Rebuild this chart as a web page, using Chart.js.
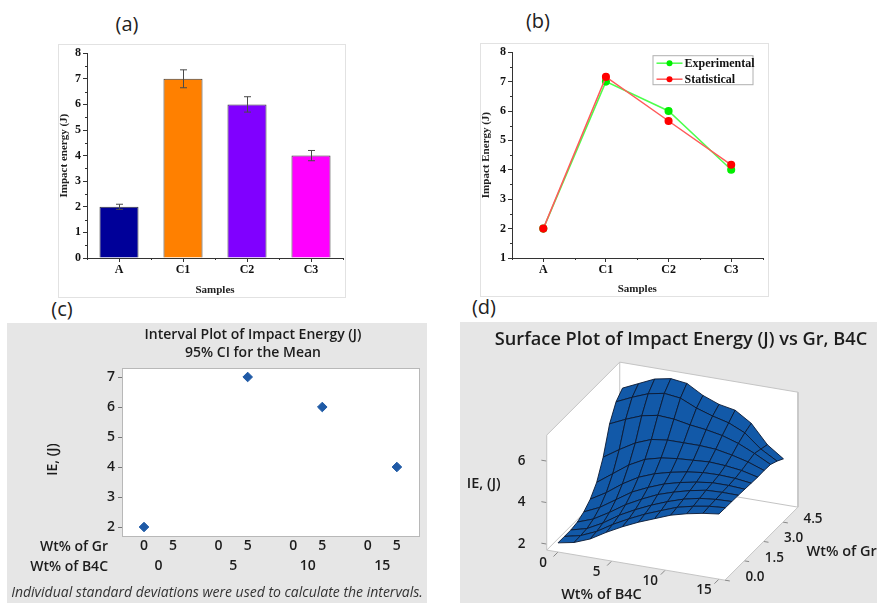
<!DOCTYPE html>
<html><head><meta charset="utf-8">
<script src="https://cdn.jsdelivr.net/npm/chart.js@4.4.1/dist/chart.umd.min.js"></script>
<style>
html,body{margin:0;padding:0;background:#fff;width:877px;height:603px;overflow:hidden;position:relative;font-family:'Open Sans',sans-serif}
.lbl{position:absolute;font-family:'Open Sans',sans-serif;font-size:20px;line-height:24px;color:#222;text-align:center;width:40px}
.frame{position:absolute;border:1px solid #e2e2e2;box-sizing:border-box;background:#fff}
.gray{position:absolute;background:#e6e6e6}
.ttl{position:absolute;text-align:center;font-family:'Open Sans',sans-serif;color:#1c1c1c;white-space:nowrap}
canvas{position:absolute;display:block}
</style></head><body>
<div class="lbl" style="left:107px;top:12px">(a)</div>
<div class="lbl" style="left:518px;top:9px">(b)</div>
<div class="lbl" style="left:42px;top:297px">(c)</div>
<div class="lbl" style="left:464px;top:295px">(d)</div>

<div class="frame" style="left:58px;top:44px;width:288px;height:254px"></div>
<div class="frame" style="left:480px;top:43px;width:289px;height:254px"></div>
<div class="gray" style="left:7px;top:323px;width:420px;height:280px"></div>
<div class="gray" style="left:460px;top:322px;width:417px;height:281px"></div>

<canvas id="ca" width="287" height="253" style="left:58px;top:44px"></canvas>
<canvas id="cb" width="288" height="253" style="left:480px;top:43px"></canvas>
<canvas id="cc" width="420" height="280" style="left:7px;top:323px"></canvas>
<canvas id="cd" width="417" height="281" style="left:460px;top:322px"></canvas>

<div class="ttl" style="left:103px;width:300px;top:325px;font-size:14px;font-weight:600;line-height:18px">Interval Plot of Impact Energy (J)<br>95% CI for the Mean</div>
<div class="ttl" style="left:2px;width:430px;top:582px;font-size:14px;font-style:italic;line-height:20px;color:#333">Individual standard deviations were used to calculate the intervals.</div>
<div class="ttl" style="left:481px;width:400px;top:325px;font-size:18.2px;font-weight:600;line-height:26px">Surface Plot of Impact Energy (J) vs Gr, B4C</div>

<script>
// ---------------- DATA ----------------
const samples = ['A', 'C1', 'C2', 'C3'];
const impactEnergy = [2, 7, 6, 4];
const impactErr = [0.1, 0.35, 0.3, 0.2];
const yTicksA = [0, 1, 2, 3, 4, 5, 6, 7, 8];

const experimental = [2, 7, 6, 4];
const statistical = [2, 7.16, 5.66, 4.17];
const yTicksB = [1, 2, 3, 4, 5, 6, 7, 8];

const ieB4C = [0, 5, 10, 15];
const ieGr = [0, 5, 5, 5];
const ieMean = [2, 7, 6, 4];
const b4cLevels = [0, 5, 10, 15];
const grLevels = [0, 5];
const yTicksC = [2, 3, 4, 5, 6, 7];

const surfB4C = [0, 1.5, 3, 4.5, 6, 7.5, 9, 10.5, 12, 13.5, 15];
const surfGr = [0, 0.5, 1, 1.5, 2, 2.5, 3, 3.5, 4, 4.5, 5];
const surfIE = [
  [2.15, 2.3, 2.6, 3.05, 3.45, 3.8, 4.1, 4.4, 4.6, 4.75, 4.85],
  [2.15, 2.32, 2.65, 3.12, 3.52, 3.88, 4.18, 4.47, 4.65, 4.78, 4.84],
  [2.15, 2.35, 2.75, 3.25, 3.65, 4.0, 4.3, 4.55, 4.72, 4.8, 4.83],
  [2.22, 2.5, 2.95, 3.45, 3.85, 4.2, 4.45, 4.65, 4.8, 4.83, 4.82],
  [2.4, 2.75, 3.25, 3.75, 4.1, 4.4, 4.6, 4.75, 4.85, 4.85, 4.8],
  [2.7, 3.15, 3.7, 4.15, 4.45, 4.65, 4.8, 4.9, 4.92, 4.88, 4.78],
  [3.2, 3.75, 4.3, 4.7, 4.9, 5.0, 5.05, 5.1, 5.05, 4.95, 4.76],
  [4.1, 4.6, 5.05, 5.35, 5.45, 5.45, 5.45, 5.4, 5.25, 5.05, 4.77],
  [5.4, 5.75, 6.05, 6.2, 6.15, 6.0, 5.9, 5.75, 5.5, 5.15, 4.75],
  [6.15, 6.5, 6.8, 6.95, 6.85, 6.5, 6.25, 6.05, 5.7, 5.05, 4.6],
  [6.5, 6.85, 7.2, 7.35, 7.25, 6.8, 6.5, 6.35, 5.85, 4.95, 4.4]
];
const zTicksD = [2, 4, 6];
const b4cTicksD = [0, 5, 10, 15];
const grTicksD = [0, 1.5, 3, 4.5];

// ---------------- STYLE ----------------
const barColors = ['#000099', '#ff8000', '#8000ff', '#ff00ff'];
const SERIF = '"Liberation Serif", "Times New Roman", serif';
const serifBold = s => ({family: SERIF, weight: 'bold', size: s});
const sansSemi = s => ({family: '"Open Sans", sans-serif', weight: '600', size: s});

Chart.defaults.animation = false;
Chart.defaults.plugins.legend.display = false;
Chart.defaults.plugins.tooltip.enabled = false;

const errorBars = {
  id: 'errorBars',
  afterDatasetsDraw(chart, args, opts) {
    const meta = chart.getDatasetMeta(0), y = chart.scales.y, ctx = chart.ctx;
    const vals = chart.data.datasets[0].data;
    ctx.save(); ctx.strokeStyle = '#4a4a4a'; ctx.lineWidth = 1;
    meta.data.forEach((bar, i) => {
      const t = y.getPixelForValue(vals[i] + opts.errors[i]);
      const b = y.getPixelForValue(vals[i] - opts.errors[i]);
      const x = Math.round(bar.x) + 0.5;
      ctx.beginPath();
      ctx.moveTo(x, t); ctx.lineTo(x, b);
      ctx.moveTo(x - 3.5, t); ctx.lineTo(x + 3.5, t);
      ctx.moveTo(x - 3.5, b); ctx.lineTo(x + 3.5, b);
      ctx.stroke();
    });
    ctx.restore();
  }
};

const minorTicks = {
  id: 'minorTicks',
  afterDraw(chart, args, opts) {
    const ctx = chart.ctx, x = chart.scales.x, y = chart.scales.y;
    ctx.save(); ctx.strokeStyle = '#333'; ctx.lineWidth = 1;
    (opts.x || []).forEach(v => {
      const px = Math.round(x.getPixelForValue(v)) + 0.5;
      ctx.beginPath(); ctx.moveTo(px, x.top); ctx.lineTo(px, x.top + opts.len); ctx.stroke();
    });
    (opts.y || []).forEach(v => {
      const py = Math.round(y.getPixelForValue(v)) + 0.5;
      ctx.beginPath(); ctx.moveTo(y.right, py); ctx.lineTo(y.right - opts.len, py); ctx.stroke();
    });
    ctx.restore();
  }
};

// ---------------- (a) ----------------
new Chart(document.getElementById('ca'), {
  type: 'bar',
  data: {labels: samples, datasets: [{data: impactEnergy, backgroundColor: barColors, borderColor: '#3a3a3a', borderWidth: 1, barPercentage: 0.61, categoryPercentage: 1}]},
  options: {
    responsive: false, devicePixelRatio: 1,
    layout: {padding: {top: 6, right: 2, left: 0, bottom: 0}},
    scales: {
      x: {offset: true, grid: {drawOnChartArea: false, offset: false, tickLength: 4, tickColor: '#333'}, border: {color: '#333'},
          ticks: {font: serifBold(12), color: '#111', padding: 1},
          title: {display: true, text: 'Samples', font: serifBold(11), color: '#222', padding: 0},
          afterFit(s) { s.height = 39; }},
      y: {min: 0, max: 8, afterBuildTicks(s) { s.ticks = yTicksA.map(v => ({value: v})); },
          grid: {drawOnChartArea: false, tickLength: 4, tickColor: '#333'}, border: {color: '#333'},
          ticks: {font: serifBold(12), color: '#111', padding: 2},
          title: {display: true, text: 'Impact energy (J)', font: serifBold(11), color: '#222', padding: 0},
          afterFit(s) { s.width = 29; }}
    },
    plugins: {
      errorBars: {errors: impactErr},
      minorTicks: {x: samples.map((_, i) => i - 0.5).concat([samples.length - 0.5]), y: yTicksA.slice(1).map(v => v - 0.5), len: 2}
    }
  },
  plugins: [errorBars, minorTicks]
});

// ---------------- (b) ----------------
const boxLegend = {
  id: 'boxLegend',
  afterDraw(chart) {
    const ca = chart.chartArea, ctx = chart.ctx;
    const w = 100, h = 29, x0 = ca.right - 10 - w, y0 = ca.top + 3;
    ctx.save();
    ctx.fillStyle = '#fff'; ctx.fillRect(x0, y0, w, h);
    ctx.strokeStyle = '#b0b0b0'; ctx.lineWidth = 1; ctx.strokeRect(x0 + 0.5, y0 + 0.5, w, h);
    chart.data.datasets.forEach((ds, i) => {
      const yy = y0 + 8 + i * 16;
      ctx.strokeStyle = ds.borderColor; ctx.lineWidth = 1.5;
      ctx.beginPath(); ctx.moveTo(x0 + 4, yy); ctx.lineTo(x0 + 30, yy); ctx.stroke();
      ctx.fillStyle = ds.pointBackgroundColor;
      ctx.beginPath(); ctx.arc(x0 + 17, yy, 3, 0, Math.PI * 2); ctx.fill();
      ctx.fillStyle = '#111'; ctx.font = 'bold 12px ' + SERIF; ctx.textBaseline = 'middle';
      ctx.fillText(ds.label, x0 + 32, yy + 0.5);
    });
    ctx.restore();
  }
};
new Chart(document.getElementById('cb'), {
  type: 'line',
  data: {labels: samples, datasets: [
    {label: 'Experimental', data: experimental, borderColor: '#4dff4d', backgroundColor: '#00ee00', pointBackgroundColor: '#00ee00', pointBorderColor: '#00ee00', pointRadius: 3.3, borderWidth: 1.5, tension: 0, order: 1},
    {label: 'Statistical', data: statistical, borderColor: '#ff5a5a', backgroundColor: '#ff0000', pointBackgroundColor: '#ff0000', pointBorderColor: '#ff0000', pointRadius: 3.3, borderWidth: 1.5, tension: 0, order: 0}
  ]},
  options: {
    responsive: false, devicePixelRatio: 1,
    layout: {padding: {top: 8, right: 2, left: 0, bottom: 0}},
    scales: {
      x: {offset: true, grid: {drawOnChartArea: false, offset: false, tickLength: 4, tickColor: '#333'}, border: {color: '#333'},
          ticks: {font: serifBold(12), color: '#111', padding: 1},
          title: {display: true, text: 'Samples', font: serifBold(11), color: '#222', padding: 0},
          afterFit(s) { s.height = 38; }},
      y: {min: 1, max: 8, afterBuildTicks(s) { s.ticks = yTicksB.map(v => ({value: v})); },
          grid: {drawOnChartArea: false, tickLength: 4, tickColor: '#333'}, border: {color: '#333'},
          ticks: {font: serifBold(12), color: '#111', padding: 2},
          title: {display: true, text: 'Impact Energy (J)', font: serifBold(11), color: '#222', padding: 0},
          afterFit(s) { s.width = 32; }}
    },
    plugins: {
      minorTicks: {x: samples.map((_, i) => i - 0.5).concat([samples.length - 0.5]), y: yTicksB.slice(1).map(v => v - 0.5), len: 2}
    }
  },
  plugins: [boxLegend, minorTicks]
});

// ---------------- (c) ----------------
const GR_STEP = 0.39;
const xposC = (b4c, gr) => b4cLevels.indexOf(b4c) + grLevels.indexOf(gr) * GR_STEP;
const areaBox = {
  id: 'areaBox',
  beforeDatasetsDraw(chart) {
    const a = chart.chartArea, ctx = chart.ctx;
    ctx.save(); ctx.fillStyle = '#fff'; ctx.fillRect(a.left, a.top, a.right - a.left, a.bottom - a.top);
    ctx.strokeStyle = '#b8b8b8'; ctx.lineWidth = 1; ctx.strokeRect(a.left + 0.5, a.top + 0.5, a.right - a.left - 1, a.bottom - a.top - 1);
    ctx.restore();
  },
  afterDraw(chart) {
    const ctx = chart.ctx, a = chart.chartArea, sx = chart.scales.x, sx2 = chart.scales.x2;
    ctx.save();
    ctx.fillStyle = '#1c1c1c'; ctx.font = '600 14px "Open Sans", sans-serif';
    ctx.textAlign = 'right'; ctx.textBaseline = 'middle';
    ctx.fillText('Wt% of Gr', a.left - 14, sx.top + 10);
    ctx.fillText('Wt% of B4C', a.left - 14, sx2.top + 10);
    ctx.translate(a.left - 69, (a.top + a.bottom) / 2 + 7);
    ctx.rotate(-Math.PI / 2); ctx.textAlign = 'center';
    ctx.fillText('IE, (J)', 0, 0);
    ctx.restore();
  }
};
new Chart(document.getElementById('cc'), {
  type: 'scatter',
  data: {datasets: [{data: ieMean.map((v, i) => ({x: xposC(ieB4C[i], ieGr[i]), y: v})), pointStyle: 'rectRot', pointRadius: 4.8, backgroundColor: '#1f5aa6', borderColor: '#1f5aa6'}]},
  options: {
    responsive: false, devicePixelRatio: 1,
    layout: {padding: {top: 45, right: 7, bottom: 26, left: 0}},
    scales: {
      x: {type: 'linear', position: 'bottom', weight: 0, min: -0.295, max: 3.7,
          afterBuildTicks(s) { s.ticks = b4cLevels.flatMap(b => grLevels.map(g => ({value: xposC(b, g)}))); },
          ticks: {callback: (v, i) => String(grLevels[i % grLevels.length]), font: sansSemi(14), color: '#1c1c1c', padding: 1, autoSkip: false, maxRotation: 0},
          grid: {display: false, drawTicks: false}, border: {display: false}, afterFit(s) { s.height = 20; }},
      x2: {type: 'linear', position: 'bottom', weight: 1, min: -0.295, max: 3.7,
          afterBuildTicks(s) { s.ticks = b4cLevels.map((b, i) => ({value: i + GR_STEP / 2})); },
          ticks: {callback: (v, i) => String(b4cLevels[i]), font: sansSemi(14), color: '#1c1c1c', padding: 1, autoSkip: false, maxRotation: 0},
          grid: {display: false, drawTicks: false}, border: {display: false}, afterFit(s) { s.height = 20; }},
      y: {min: 1.667, max: 7.3, afterBuildTicks(s) { s.ticks = yTicksC.map(v => ({value: v})); },
          ticks: {font: sansSemi(14), color: '#1c1c1c', padding: 3},
          grid: {drawOnChartArea: false, tickLength: 4, tickColor: '#777'}, border: {display: false},
          afterFit(s) { s.width = 115; }}
    }
  },
  plugins: [areaBox]
});

// ---------------- (d) ----------------
const view = {x0: 558, y0: 552, bx: 10.73, by: 1.81, gx: 12.9, gy: -12.9, zs: 20.75, z0: 1.71,
              bMin: -1.05, bMax: 15.56, gMin: 0, gMax: 5.66, zMax: 7.25};
function proj(b, g, z) {
  return {x: view.x0 + b * view.bx + g * view.gx, y: view.y0 + b * view.by + g * view.gy - (z - view.z0) * view.zs};
}
const SURF = '#1259a8', MESH = '#0b1a33', EDGE = '#c4c4c4';
const dsD = [];
const quads = [];
for (let i = 0; i < surfGr.length - 1; i++) {
  for (let j = 0; j < surfB4C.length - 1; j++) {
    const pts = [[j, i], [j + 1, i], [j + 1, i + 1], [j, i + 1], [j, i]]
      .map(([jj, ii]) => proj(surfB4C[jj], surfGr[ii], surfIE[ii][jj]));
    const bc = (surfB4C[j] + surfB4C[j + 1]) / 2, gc = (surfGr[i] + surfGr[i + 1]) / 2;
    quads.push({depth: bc * view.by + gc * view.gy, pts});
  }
}
quads.sort((p, q) => q.depth - p.depth);
quads.forEach(q => dsD.push({data: q.pts, fill: 'shape', backgroundColor: SURF, borderColor: MESH, borderWidth: 0.9, pointRadius: 0, tension: 0, order: 0}));
const {bMin, bMax, gMin, gMax, z0, zMax} = view;
const edges = [
  [[bMin, gMin, z0], [bMin, gMin, zMax]],
  [[bMin, gMin, zMax], [bMin, gMax, zMax]],
  [[bMin, gMax, zMax], [bMax, gMax, zMax]],
  [[bMax, gMax, zMax], [bMax, gMax, z0]],
  [[bMin, gMin, z0], [bMax, gMin, z0]],
  [[bMax, gMin, z0], [bMax, gMax, z0]],
  [[bMin, gMax, z0], [bMax, gMax, z0]],
  [[bMin, gMax, z0], [bMin, gMax, zMax]],
  [[bMin, gMin, z0], [bMin, gMax, z0]]
];
edges.forEach(e => dsD.push({data: e.map(p => proj(...p)), borderColor: EDGE, borderWidth: 1, pointRadius: 0, fill: false, order: 4}));
zTicksD.forEach(z => dsD.push({data: [proj(bMin, gMin, z), proj(bMin - 0.5, gMin, z)], borderColor: '#888', borderWidth: 1, pointRadius: 0, fill: false, order: 4}));
b4cTicksD.forEach(b => dsD.push({data: [proj(b, gMin, z0), proj(b, gMin - 0.35, z0)], borderColor: '#888', borderWidth: 1, pointRadius: 0, fill: false, order: 4}));
grTicksD.forEach(g => dsD.push({data: [proj(bMax, g, z0), proj(bMax + 0.45, g, z0)], borderColor: '#888', borderWidth: 1, pointRadius: 0, fill: false, order: 4}));
const walls = [proj(bMin, gMin, zMax), proj(bMin, gMax, zMax), proj(bMax, gMax, zMax), proj(bMax, gMax, z0), proj(bMax, gMin, z0), proj(bMin, gMin, z0), proj(bMin, gMin, zMax)];
dsD.push({data: walls, fill: 'shape', backgroundColor: '#ffffff', borderWidth: 0, borderColor: 'rgba(0,0,0,0)', pointRadius: 0, order: 5});

const labels3d = {
  id: 'labels3d',
  afterDraw(chart) {
    const ctx = chart.ctx, sx = chart.scales.x, sy = chart.scales.y;
    const P = (p, dx, dy) => [sx.getPixelForValue(p.x) + dx, sy.getPixelForValue(p.y) + dy];
    ctx.save();
    ctx.fillStyle = '#1c1c1c'; ctx.font = '600 13.5px "Open Sans", sans-serif';
    ctx.textAlign = 'center'; ctx.textBaseline = 'middle';
    zTicksD.forEach(z => { const [x, y] = P(proj(bMin, gMin, z), -25, 0); ctx.fillText(String(z), x, y); });
    b4cTicksD.forEach(b => { const [x, y] = P(proj(b, gMin, z0), -15, 11); ctx.fillText(String(b), x, y); });
    grTicksD.forEach(g => { const [x, y] = P(proj(bMax, g, z0), 30, -3); ctx.fillText(g.toFixed(1), x, y); });
    ctx.font = '600 14.5px "Open Sans", sans-serif';
    let [x, y] = P(proj(bMin, gMin, 4.9), -63, 0); ctx.fillText('IE, (J)', x, y);
    [x, y] = P(proj(7.5, gMin, z0), -37, 29); ctx.fillText('Wt% of B4C', x, y);
    ctx.textAlign = 'left';
    [x, y] = P(proj(bMax, gMax / 2, z0), 45, 8); ctx.fillText('Wt% of Gr', x, y);
    ctx.restore();
  }
};
new Chart(document.getElementById('cd'), {
  type: 'line',
  data: {datasets: dsD},
  options: {
    responsive: false, devicePixelRatio: 1,
    layout: {padding: 0},
    elements: {line: {tension: 0}},
    scales: {
      x: {type: 'linear', min: 460, max: 877, display: false},
      y: {type: 'linear', min: 322, max: 603, reverse: true, display: false}
    }
  },
  plugins: [labels3d]
});
</script>
</body></html>
